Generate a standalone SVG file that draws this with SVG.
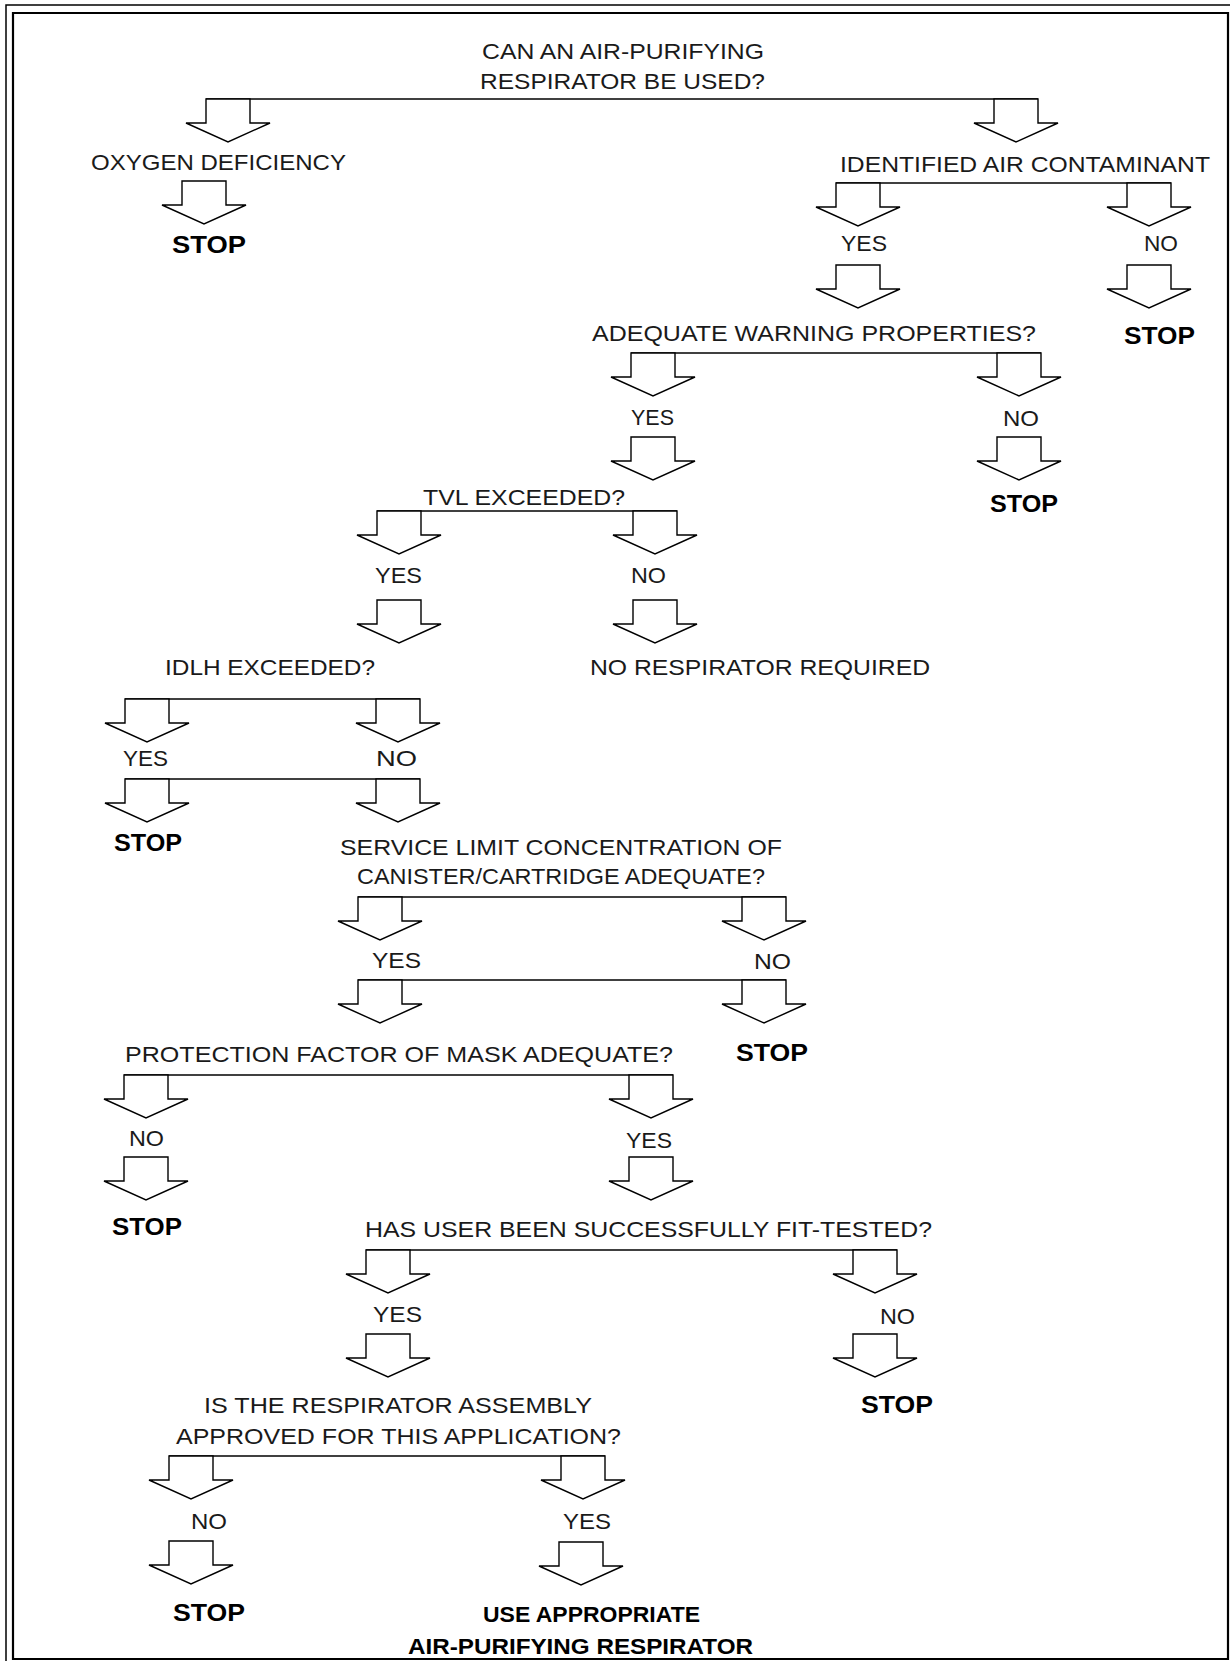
<svg xmlns="http://www.w3.org/2000/svg" xmlns:xlink="http://www.w3.org/1999/xlink" width="1230" height="1661" viewBox="0 0 1230 1661">
<style>
.t{font-family:"Liberation Sans",Arial,sans-serif;font-size:22px;fill:#1a1a1a}
.b{font-family:"Liberation Sans",Arial,sans-serif;font-size:24px;font-weight:bold;fill:#000}
.c{stroke:#000;stroke-width:1.4;fill:none}
.fr{stroke:#000;fill:none}
</style>
<defs>
<path id="ar" d="M-22,0 V24 H-42 L0,43 L42,24 H22 V0 Z" fill="#fff" stroke="#000" stroke-width="1.4" stroke-linejoin="miter"/>
</defs>
<rect width="1230" height="1661" fill="#fff"/>
<g id="frame">
<path class="fr" d="M6,1661 V5 H1230" stroke-width="1.5"/>
<path class="fr" d="M13,1659 V13 H1228 V1659 Z" stroke-width="2.2"/>
</g>
<g id="connectors">
<line class="c" x1="206" y1="99" x2="1038" y2="99"/>
<line class="c" x1="836" y1="183" x2="1171" y2="183"/>
<line class="c" x1="631" y1="353" x2="1041" y2="353"/>
<line class="c" x1="377" y1="511" x2="677" y2="511"/>
<line class="c" x1="125" y1="699" x2="420" y2="699"/>
<line class="c" x1="125" y1="779" x2="420" y2="779"/>
<line class="c" x1="358" y1="897" x2="786" y2="897"/>
<line class="c" x1="358" y1="980" x2="786" y2="980"/>
<line class="c" x1="124" y1="1075" x2="673" y2="1075"/>
<line class="c" x1="366" y1="1250" x2="897" y2="1250"/>
<line class="c" x1="169" y1="1456" x2="605" y2="1456"/>
<use xlink:href="#ar" x="228" y="99"/>
<use xlink:href="#ar" x="1016" y="99"/>
<use xlink:href="#ar" x="204" y="181"/>
<use xlink:href="#ar" x="858" y="183"/>
<use xlink:href="#ar" x="1149" y="183"/>
<use xlink:href="#ar" x="858" y="265"/>
<use xlink:href="#ar" x="1149" y="265"/>
<use xlink:href="#ar" x="653" y="353"/>
<use xlink:href="#ar" x="1019" y="353"/>
<use xlink:href="#ar" x="653" y="437"/>
<use xlink:href="#ar" x="1019" y="437"/>
<use xlink:href="#ar" x="399" y="511"/>
<use xlink:href="#ar" x="655" y="511"/>
<use xlink:href="#ar" x="399" y="600"/>
<use xlink:href="#ar" x="655" y="600"/>
<use xlink:href="#ar" x="147" y="699"/>
<use xlink:href="#ar" x="398" y="699"/>
<use xlink:href="#ar" x="147" y="779"/>
<use xlink:href="#ar" x="398" y="779"/>
<use xlink:href="#ar" x="380" y="897"/>
<use xlink:href="#ar" x="764" y="897"/>
<use xlink:href="#ar" x="380" y="980"/>
<use xlink:href="#ar" x="764" y="980"/>
<use xlink:href="#ar" x="146" y="1075"/>
<use xlink:href="#ar" x="651" y="1075"/>
<use xlink:href="#ar" x="146" y="1157"/>
<use xlink:href="#ar" x="651" y="1157"/>
<use xlink:href="#ar" x="388" y="1250"/>
<use xlink:href="#ar" x="875" y="1250"/>
<use xlink:href="#ar" x="388" y="1334"/>
<use xlink:href="#ar" x="875" y="1334"/>
<use xlink:href="#ar" x="191" y="1456"/>
<use xlink:href="#ar" x="583" y="1456"/>
<use xlink:href="#ar" x="191" y="1541"/>
<use xlink:href="#ar" x="581" y="1542"/>
</g>
<g id="q1"><text class="t" x="482" y="59" textLength="282" lengthAdjust="spacingAndGlyphs">CAN AN AIR-PURIFYING</text>
<text class="t" x="480" y="89" textLength="285" lengthAdjust="spacingAndGlyphs">RESPIRATOR BE USED?</text></g>
<g id="oxygen"><text class="t" x="91" y="170" textLength="255" lengthAdjust="spacingAndGlyphs">OXYGEN DEFICIENCY</text></g>
<g id="stop1"><text class="b" x="172" y="253" textLength="74" lengthAdjust="spacingAndGlyphs">STOP</text></g>
<g id="contaminant"><text class="t" x="840" y="172" textLength="370" lengthAdjust="spacingAndGlyphs">IDENTIFIED AIR CONTAMINANT</text></g>
<g id="yes1"><text class="t" x="841" y="251" textLength="46" lengthAdjust="spacingAndGlyphs">YES</text></g>
<g id="no1"><text class="t" x="1144" y="251" textLength="34" lengthAdjust="spacingAndGlyphs">NO</text></g>
<g id="warning"><text class="t" x="592" y="341" textLength="444" lengthAdjust="spacingAndGlyphs">ADEQUATE WARNING PROPERTIES?</text></g>
<g id="stop2"><text class="b" x="1124" y="344" textLength="71" lengthAdjust="spacingAndGlyphs">STOP</text></g>
<g id="yes2"><text class="t" x="631" y="425" textLength="43" lengthAdjust="spacingAndGlyphs">YES</text></g>
<g id="no2"><text class="t" x="1003" y="426" textLength="36" lengthAdjust="spacingAndGlyphs">NO</text></g>
<g id="tvl"><text class="t" x="423" y="505" textLength="202" lengthAdjust="spacingAndGlyphs">TVL EXCEEDED?</text></g>
<g id="stop3"><text class="b" x="990" y="512" textLength="68" lengthAdjust="spacingAndGlyphs">STOP</text></g>
<g id="yes3"><text class="t" x="375" y="583" textLength="47" lengthAdjust="spacingAndGlyphs">YES</text></g>
<g id="no3"><text class="t" x="631" y="583" textLength="35" lengthAdjust="spacingAndGlyphs">NO</text></g>
<g id="idlh"><text class="t" x="165" y="675" textLength="210" lengthAdjust="spacingAndGlyphs">IDLH EXCEEDED?</text></g>
<g id="norespirator"><text class="t" x="590" y="675" textLength="340" lengthAdjust="spacingAndGlyphs">NO RESPIRATOR REQUIRED</text></g>
<g id="yes4"><text class="t" x="123" y="766" textLength="45" lengthAdjust="spacingAndGlyphs">YES</text></g>
<g id="no4"><text class="t" x="376" y="766" textLength="41" lengthAdjust="spacingAndGlyphs">NO</text></g>
<g id="stop4"><text class="b" x="114" y="851" textLength="68" lengthAdjust="spacingAndGlyphs">STOP</text></g>
<g id="service"><text class="t" x="340" y="855" textLength="442" lengthAdjust="spacingAndGlyphs">SERVICE LIMIT CONCENTRATION OF</text>
<text class="t" x="357" y="884" textLength="408" lengthAdjust="spacingAndGlyphs">CANISTER/CARTRIDGE ADEQUATE?</text></g>
<g id="yes5"><text class="t" x="372" y="968" textLength="49" lengthAdjust="spacingAndGlyphs">YES</text></g>
<g id="no5"><text class="t" x="754" y="969" textLength="37" lengthAdjust="spacingAndGlyphs">NO</text></g>
<g id="stop5"><text class="b" x="736" y="1061" textLength="72" lengthAdjust="spacingAndGlyphs">STOP</text></g>
<g id="protection"><text class="t" x="125" y="1062" textLength="548" lengthAdjust="spacingAndGlyphs">PROTECTION FACTOR OF MASK ADEQUATE?</text></g>
<g id="no6"><text class="t" x="129" y="1146" textLength="35" lengthAdjust="spacingAndGlyphs">NO</text></g>
<g id="yes6"><text class="t" x="626" y="1148" textLength="46" lengthAdjust="spacingAndGlyphs">YES</text></g>
<g id="stop6"><text class="b" x="112" y="1235" textLength="70" lengthAdjust="spacingAndGlyphs">STOP</text></g>
<g id="fittest"><text class="t" x="365" y="1237" textLength="567" lengthAdjust="spacingAndGlyphs">HAS USER BEEN SUCCESSFULLY FIT-TESTED?</text></g>
<g id="yes7"><text class="t" x="373" y="1322" textLength="49" lengthAdjust="spacingAndGlyphs">YES</text></g>
<g id="no7"><text class="t" x="880" y="1324" textLength="35" lengthAdjust="spacingAndGlyphs">NO</text></g>
<g id="assembly"><text class="t" x="204" y="1413" textLength="388" lengthAdjust="spacingAndGlyphs">IS THE RESPIRATOR ASSEMBLY</text>
<text class="t" x="176" y="1444" textLength="445" lengthAdjust="spacingAndGlyphs">APPROVED FOR THIS APPLICATION?</text></g>
<g id="stop7"><text class="b" x="861" y="1413" textLength="72" lengthAdjust="spacingAndGlyphs">STOP</text></g>
<g id="no8"><text class="t" x="191" y="1529" textLength="36" lengthAdjust="spacingAndGlyphs">NO</text></g>
<g id="yes8"><text class="t" x="563" y="1529" textLength="48" lengthAdjust="spacingAndGlyphs">YES</text></g>
<g id="stop8"><text class="b" x="173" y="1621" textLength="72" lengthAdjust="spacingAndGlyphs">STOP</text></g>
<g id="use"><text class="b" x="483" y="1622" textLength="217" lengthAdjust="spacingAndGlyphs" style="font-size:22px">USE APPROPRIATE</text>
<text class="b" x="408" y="1654" textLength="345" lengthAdjust="spacingAndGlyphs" style="font-size:22px">AIR-PURIFYING RESPIRATOR</text></g>
</svg>
